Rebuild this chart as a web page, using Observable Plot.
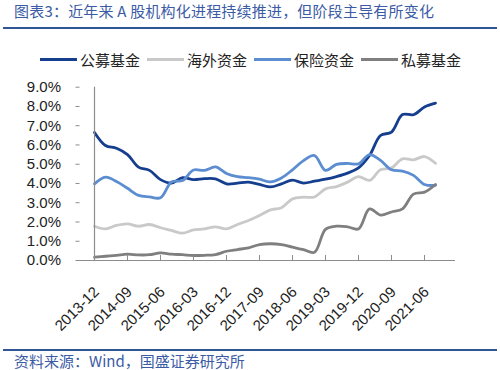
<!DOCTYPE html>
<html><head><meta charset="utf-8">
<script src="https://cdn.jsdelivr.net/npm/d3@7"></script>
<script src="https://cdn.jsdelivr.net/npm/@observablehq/plot@0.6"></script>
<style>
html,body{margin:0;padding:0;background:#fff;}
body{width:500px;height:370px;position:relative;overflow:hidden;font-family:"Noto Sans CJK SC","Liberation Sans",sans-serif;}
#title{position:absolute;left:14px;top:1px;font-size:15px;line-height:20px;color:#3b5ba5;white-space:nowrap;letter-spacing:0.2px;}
.rule{position:absolute;left:3px;width:494px;background:#2f5597;}
#legend{position:absolute;left:40px;top:49px;height:20px;display:flex;align-items:center;font-size:15px;color:#222;white-space:nowrap;}
.item{display:flex;align-items:center;margin-right:7px;}
.sw{width:37px;height:3px;margin-right:3px;}
#chart{position:absolute;left:0;top:70px;}
#source{position:absolute;left:14px;top:352px;font-size:15px;line-height:18px;color:#3b5ba5;white-space:nowrap;}
</style></head><body>
<div id="title">图表3：近年来 A 股机构化进程持续推进，但阶段主导有所变化</div>
<div class="rule" style="top:27px;height:2px"></div>
<div id="legend"></div>
<div id="chart"></div>
<div class="rule" style="top:349px;height:1.5px"></div>
<div id="source">资料来源：Wind，国盛证券研究所</div>
<script>
const quarters = ["2013-12","2014-03","2014-06","2014-09","2014-12","2015-03","2015-06","2015-09","2015-12","2016-03","2016-06","2016-09","2016-12","2017-03","2017-06","2017-09","2017-12","2018-03","2018-06","2018-09","2018-12","2019-03","2019-06","2019-09","2019-12","2020-03","2020-06","2020-09","2020-12","2021-03","2021-06","2021-09"];
const tickLabels = ["2013-12","2014-09","2015-06","2016-03","2016-12","2017-09","2018-06","2019-03","2019-12","2020-09","2021-06"];
const yTicks = [0,1,2,3,4,5,6,7,8,9];

const publicFunds = [6.65,5.97,5.83,5.5,4.85,4.68,4.2,4.02,4.3,4.2,4.25,4.24,3.98,4.02,4.07,3.95,3.82,3.98,4.17,4.02,4.12,4.22,4.36,4.54,4.81,5.45,6.49,6.67,7.58,7.57,7.97,8.17];
const overseas = [1.78,1.64,1.82,1.9,1.78,1.87,1.7,1.56,1.42,1.59,1.64,1.75,1.64,1.87,2.08,2.34,2.63,2.74,3.2,3.29,3.3,3.72,3.84,4.07,4.36,4.16,4.71,4.81,5.28,5.23,5.4,5.05];
const insurance = [3.98,4.33,4.1,3.75,3.38,3.3,3.26,4.08,4.15,4.7,4.68,4.86,4.52,4.35,4.3,4.22,4.08,4.29,4.71,5.19,5.45,4.68,4.99,5.04,5.02,5.5,5.2,4.71,4.64,4.42,3.95,3.9];
const privateFunds = [0.17,0.22,0.27,0.33,0.29,0.3,0.4,0.33,0.3,0.26,0.27,0.31,0.48,0.57,0.66,0.83,0.87,0.83,0.69,0.56,0.43,1.62,1.78,1.75,1.64,2.68,2.36,2.52,2.68,3.45,3.55,3.95];

const seriesNames = ["公募基金","海外资金","保险资金","私募基金"];
const seriesColors = ["#153e8e","#c9c9c9","#5b8dd0","#7f7f7f"];
const seriesValues = [publicFunds, overseas, insurance, privateFunds];

// legend
const legend = document.getElementById("legend");
seriesNames.forEach((n, k) => {
  const it = document.createElement("div"); it.className = "item";
  const sw = document.createElement("div"); sw.className = "sw"; sw.style.background = seriesColors[k];
  const tx = document.createElement("span"); tx.textContent = n;
  it.appendChild(sw); it.appendChild(tx); legend.appendChild(it);
});

const W = 500, H = 275, mL = 75.5, mR = 45, mT = 16.7, mB = 85;
const axisColor = "#8c8c8c";
const marks = [];
seriesValues.forEach((vals, k) => {
  marks.push(Plot.line(quarters, {x: d => d, y: (d, i) => vals[i], stroke: seriesColors[k], strokeWidth: 2.8, curve: "catmull-rom"}));
});
marks.push(
  Plot.ruleY([0], {stroke: axisColor, strokeWidth: 1.2}),
  Plot.ruleX([quarters[0]], {stroke: axisColor, strokeWidth: 1.2}),
  Plot.ruleY(yTicks.slice(1), {stroke: axisColor, insetRight: (W - mL - mR) - 4}),
  Plot.ruleX(tickLabels.slice(1), {stroke: axisColor, insetTop: (H - mT - mB) - 5}),
  Plot.axisY({ticks: yTicks, tickSize: 0, tickPadding: 15, tickFormat: d => d.toFixed(1) + "%", fontSize: 15, fill: "#222", label: null}),
  Plot.text(tickLabels, {x: d => d, frameAnchor: "bottom", text: d => d, rotate: -45, textAnchor: "end", lineAnchor: "middle", dx: 2, dy: 29, fontSize: 15, fill: "#222"})
);
const chart = Plot.plot({
  width: W, height: H,
  marginLeft: mL, marginRight: mR, marginTop: mT, marginBottom: mB,
  x: {type: "point", domain: quarters, range: [mL, mL + 31 * 12.17], axis: null},
  y: {domain: [0, 9], axis: null},
  style: {fontFamily: "'Liberation Sans', Arial, sans-serif", background: "transparent", overflow: "visible"},
  marks
});
document.getElementById("chart").appendChild(chart);
</script>
</body></html>
